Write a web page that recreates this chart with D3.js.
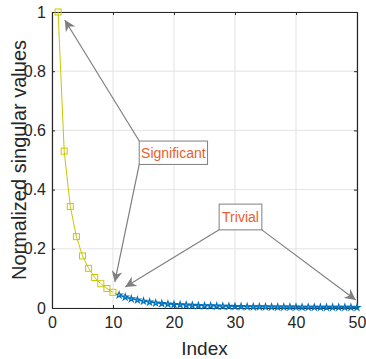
<!DOCTYPE html>
<html>
<head>
<meta charset="utf-8">
<script src="https://cdn.jsdelivr.net/npm/d3@7"></script>
<style>
body{margin:0;background:#fff;}
text{font-family:"Liberation Sans",Arial,sans-serif;}
</style>
</head>
<body>
<div id="chart"></div>
<script>
// singular values, normalized
const sigIdx = [1,2,3,4,5,6,7,8,9,10];
const sigVal = [1, 0.53, 0.343, 0.241, 0.176, 0.134, 0.103, 0.082, 0.066, 0.053];
const trivIdx = d3.range(11, 51);
const trivVal = [0.044, 0.037, 0.031, 0.027, 0.023, 0.020, 0.017, 0.015, 0.013, 0.012,
  0.011, 0.010, 0.009, 0.008, 0.0075, 0.007, 0.0065, 0.006, 0.0055, 0.005,
  0.0047, 0.0044, 0.0041, 0.0038, 0.0036, 0.0034, 0.0032, 0.003, 0.0029, 0.0028,
  0.0027, 0.0026, 0.0025, 0.0024, 0.0023, 0.0022, 0.0021, 0.002, 0.0019, 0.0018];
const xTicks = [0,10,20,30,40,50];
const yTicks = [0,0.2,0.4,0.6,0.8,1];

const W = 366, H = 359;
const margin = {top:12, right:9, bottom:51, left:52};
const width = W - margin.left - margin.right,
      height = H - margin.top - margin.bottom;

const x = d3.scaleLinear().domain([0,50]).range([0,width]);
const y = d3.scaleLinear().domain([0,1]).range([height,0]);

const svg = d3.select("#chart").append("svg")
  .attr("width", W).attr("height", H);
const g = svg.append("g").attr("transform","translate("+margin.left+","+margin.top+")");

// grid
g.selectAll(".gx").data(xTicks).enter().append("line")
  .attr("x1", d=>x(d)).attr("x2", d=>x(d)).attr("y1",0).attr("y2",height)
  .attr("stroke","#e3e3e3").attr("stroke-width",1);
g.selectAll(".gy").data(yTicks).enter().append("line")
  .attr("y1", d=>y(d)).attr("y2", d=>y(d)).attr("x1",0).attr("x2",width)
  .attr("stroke","#e3e3e3").attr("stroke-width",1);

// axes (ticks inside)
const axCol = "#262626";
const xAx = g.append("g").attr("transform","translate(0,"+height+")")
  .call(d3.axisBottom(x).tickValues(xTicks).tickSizeInner(-3).tickSizeOuter(0).tickPadding(9));
const yAx = g.append("g")
  .call(d3.axisLeft(y).tickValues(yTicks).tickSizeInner(-3).tickSizeOuter(0).tickPadding(6)
    .tickFormat(d3.format("~g")));
const xTop = g.append("g")
  .call(d3.axisTop(x).tickValues(xTicks).tickSizeInner(-3).tickSizeOuter(0).tickFormat(""));
const yRight = g.append("g").attr("transform","translate("+width+",0)")
  .call(d3.axisRight(y).tickValues(yTicks).tickSizeInner(-3).tickSizeOuter(0).tickFormat(""));
[xAx,yAx,xTop,yRight].forEach(a=>{
  a.select(".domain").attr("stroke",axCol).attr("stroke-width",1.2);
  a.selectAll(".tick line").attr("stroke",axCol);
  a.selectAll("text").attr("fill",axCol).style("font-size","16px").style("font-family","Liberation Sans, Arial, sans-serif");
});

// lines
const yellow = "#c8c800", blue = "#0072bd";
const line = d3.line().x(d=>x(d[0])).y(d=>y(d[1]));
const sig = sigIdx.map((d,i)=>[d,sigVal[i]]);
const triv = trivIdx.map((d,i)=>[d,trivVal[i]]);

g.append("path").datum(triv).attr("d",line).attr("fill","none").attr("stroke",blue).attr("stroke-width",1);
g.selectAll(".tm").data(triv).enter().append("path")
  .attr("d", d3.symbol().type(d3.symbolStar).size(11))
  .attr("transform", d=>"translate("+x(d[0])+","+y(d[1])+")")
  .attr("fill","none").attr("stroke",blue).attr("stroke-width",1.2);

g.append("path").datum(sig).attr("d",line).attr("fill","none").attr("stroke",yellow).attr("stroke-width",1);
g.selectAll(".sm").data(sig).enter().append("rect")
  .attr("x", d=>x(d[0])-3).attr("y", d=>y(d[1])-3)
  .attr("width",6).attr("height",6)
  .attr("fill","none").attr("stroke",yellow).attr("stroke-width",1);

// annotations
const grey = "#7f7f7f";
svg.append("defs").append("marker")
  .attr("id","arr").attr("viewBox","0 0 10 10").attr("refX",10).attr("refY",5)
  .attr("markerWidth",11).attr("markerHeight",11).attr("markerUnits","userSpaceOnUse")
  .attr("orient","auto")
  .append("path").attr("d","M0,0L10,5L0,10L3,5Z").attr("fill",grey);

const notes = [
  {label:"Significant", x0:14.3, y0:0.564, x1:25.5, y1:0.485,
   arrows:[{from:[14.3,0.564], to:[2.1,0.973]},{from:[14.3,0.485], to:[10.3,0.088]}]},
  {label:"Trivial", x0:27.4, y0:0.351, x1:34.4, y1:0.264,
   arrows:[{from:[27.4,0.264], to:[12.0,0.071]},{from:[34.4,0.264], to:[49.8,0.027]}]}
];

notes.forEach(n=>{
  n.arrows.forEach(a=>{
    g.append("line")
      .attr("x1",x(a.from[0])).attr("y1",y(a.from[1]))
      .attr("x2",x(a.to[0])).attr("y2",y(a.to[1]))
      .attr("stroke",grey).attr("stroke-width",1.2).attr("marker-end","url(#arr)");
  });
  g.append("rect")
    .attr("x",x(n.x0)).attr("y",y(n.y0))
    .attr("width",x(n.x1)-x(n.x0)).attr("height",y(n.y1)-y(n.y0))
    .attr("fill","#fff").attr("stroke",grey).attr("stroke-width",1);
  g.append("text")
    .attr("x",(x(n.x0)+x(n.x1))/2).attr("y",(y(n.y0)+y(n.y1))/2)
    .attr("text-anchor","middle").attr("dominant-baseline","central")
    .attr("fill","#e8602c").style("font-size","14px")
    .text(n.label);
});

// axis labels
svg.append("text")
  .attr("x", margin.left + width/2).attr("y", H-4)
  .attr("text-anchor","middle").attr("fill",axCol).style("font-size","19px")
  .text("Index");
svg.append("text")
  .attr("transform","translate(26,"+(margin.top+height/2)+") rotate(-90)")
  .attr("text-anchor","middle").attr("fill",axCol).style("font-size","20px")
  .text("Normalized singular values");
</script>
</body>
</html>
